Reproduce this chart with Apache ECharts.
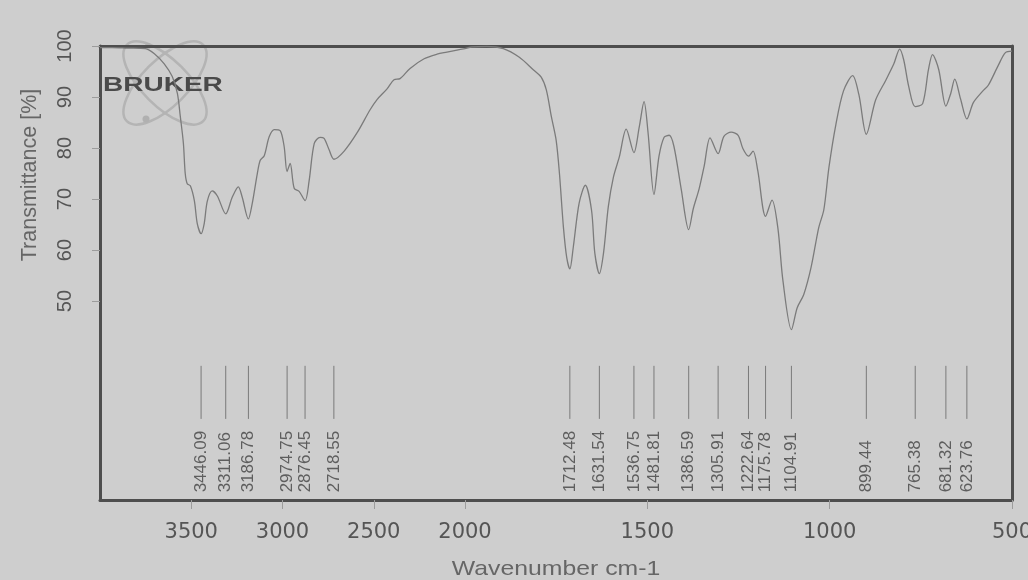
<!DOCTYPE html>
<html>
<head>
<meta charset="utf-8">
<script src="https://cdn.jsdelivr.net/npm/echarts@6.0.0/dist/echarts.min.js"></script>
<style>
html,body{margin:0;padding:0;background:#cecece;}
#chart{width:1028px;height:580px;}
</style>
</head>
<body>
<div id="chart"></div>
<script>
// ---- Data (wavenumber in cm-1, transmittance in %) ----
// High-wavenumber part (4000 -> 2000 cm-1), drawn on the compressed scale
const highWavenumbers = [4000, 3932, 3850, 3751, 3702, 3648, 3604, 3576, 3560, 3543, 3533, 3522, 3505, 3483, 3467, 3446, 3429, 3412, 3385, 3357, 3311, 3275, 3242, 3221, 3187, 3166, 3138, 3122, 3100, 3073, 3045, 3013, 2991, 2975, 2958, 2936, 2909, 2876, 2854, 2826, 2794, 2772, 2744, 2718, 2662, 2591, 2520, 2482, 2427, 2389, 2356, 2301, 2224, 2153, 2099, 2044, 2000];
const highTransmittance = [99.7, 99.7, 99.6, 99.5, 98.5, 96.5, 94.0, 90.7, 86.2, 80.9, 75.0, 73.0, 72.6, 69.7, 65.2, 63.2, 65.2, 69.6, 71.6, 70.6, 67.1, 70.4, 72.4, 70.4, 66.1, 69.1, 75.0, 77.6, 78.5, 82.2, 83.6, 83.4, 80.3, 75.4, 77.0, 72.1, 71.5, 69.7, 73.6, 80.9, 82.1, 81.9, 79.6, 77.8, 79.4, 83.0, 87.5, 89.5, 91.6, 93.4, 93.6, 95.6, 97.5, 98.4, 98.8, 99.2, 99.5];

// Low-wavenumber part (2000 -> 500 cm-1)
const lowWavenumbers = [2000, 1982, 1941, 1895, 1851, 1812, 1791, 1777, 1763, 1750, 1741, 1730, 1721, 1712.5, 1703, 1687, 1670, 1653, 1644, 1631.5, 1620, 1607, 1593, 1577, 1558, 1536.8, 1522, 1509, 1498, 1481.8, 1468, 1454, 1440, 1427, 1407, 1386.6, 1374, 1358, 1344, 1328, 1305.9, 1290, 1270, 1251, 1238, 1222.6, 1210, 1197, 1175.8, 1158, 1142, 1128, 1104.9, 1089, 1071, 1051, 1030, 1016, 1002, 983, 962, 937, 920, 899.4, 874, 846, 824, 808, 797, 783, 765.4, 745, 729, 718, 701, 681.3, 668, 657, 641, 623.8, 606, 581, 565, 537, 518, 500];
const lowTransmittance = [99.5, 99.8, 99.9, 99.5, 97.8, 95.3, 93.9, 91.4, 86.1, 81.5, 75.0, 64.4, 58.5, 56.3, 60.6, 69.2, 72.7, 67.8, 59.4, 55.4, 59.5, 68.5, 74.3, 78.2, 83.7, 79.1, 84.2, 89.1, 83.0, 70.9, 78.4, 82.1, 82.5, 80.3, 71.9, 64.0, 68.1, 72.0, 76.5, 82.0, 78.9, 82.3, 83.1, 82.5, 79.9, 78.4, 79.4, 75.5, 66.6, 69.8, 64.3, 53.9, 44.4, 48.7, 51.3, 56.6, 64.4, 67.9, 76.2, 84.6, 91.2, 94.2, 90.5, 82.7, 89.4, 93.3, 96.5, 99.4, 97.3, 92.0, 88.1, 88.7, 95.4, 98.3, 95.4, 88.2, 90.7, 93.5, 89.6, 85.7, 88.9, 91.1, 92.3, 96.3, 98.7, 99.0];

// Peak picking list
const highPeaks = [3446.09, 3311.06, 3186.78, 2974.75, 2876.45, 2718.55];
const lowPeaks = [1712.48, 1631.54, 1536.75, 1481.81, 1386.59, 1305.91, 1222.64, 1175.78, 1104.91, 899.44, 765.38, 681.32, 623.76];

// Tick labels
const xTicksHigh = [2500, 3000, 3500];
const xTicksLow = [500, 1000, 1500, 2000];
const yTicks = [50, 60, 70, 80, 90, 100];

// ---- Layout / style constants ----
const Y_MIN = 11, Y_MAX = 100;
const PEAK_LINE_TOP = 37.3, PEAK_LINE_BOTTOM = 26.9, PEAK_LABEL_BASE = 12.5;
const FRAME = '#4e4e4e';
const TEXT = '#555555';

function zip(xs, ys) { return xs.map((x, i) => [x, ys[i]]); }

function peakRenderer(list) {
  return function (params, api) {
    const w = api.value(0);
    const p1 = api.coord([w, PEAK_LINE_TOP]);
    const p2 = api.coord([w, PEAK_LINE_BOTTOM]);
    const pl = api.coord([w, PEAK_LABEL_BASE]);
    return {
      type: 'group',
      children: [
        { type: 'line', shape: { x1: p1[0], y1: p1[1], x2: p2[0], y2: p2[1] },
          style: { stroke: '#7a7a7a', lineWidth: 1 } },
        { type: 'text', x: pl[0], y: pl[1], rotation: Math.PI / 2,
          style: { text: list[params.dataIndex].toFixed(2), fill: '#5e5e5e',
                   font: '17px "Liberation Sans", Arial, sans-serif',
                   align: 'left', verticalAlign: 'middle' } }
      ]
    };
  };
}

const xLabelStyle = { color: TEXT, fontFamily: '"DejaVu Sans", sans-serif', fontSize: 21, margin: 22,
                      formatter: v => String(v) };

function bottomX(gridIndex, min, max, ticks) {
  return {
    gridIndex, type: 'value', min, max, inverse: true, position: 'bottom',
    axisLine: { show: true, onZero: false, lineStyle: { color: FRAME, width: 3 } },
    axisTick: { show: true, customValues: ticks, length: 9, lineStyle: { color: '#9c9c9c', width: 1 } },
    axisLabel: Object.assign({ show: true, customValues: ticks }, xLabelStyle),
    splitLine: { show: false }
  };
}
function topX(gridIndex, min, max) {
  return {
    gridIndex, type: 'value', min, max, inverse: true, position: 'top',
    axisLine: { show: true, onZero: false, lineStyle: { color: FRAME, width: 3 } },
    axisTick: { show: false }, axisLabel: { show: false }, splitLine: { show: false }
  };
}

const chart = echarts.init(document.getElementById('chart'), null, { renderer: 'canvas' });
chart.setOption({
  backgroundColor: '#cecece',
  animation: false,
  grid: [
    { left: 100, top: 46, width: 365, height: 454, outerBoundsMode: 'none', containLabel: false },
    { left: 465, top: 46, width: 547, height: 454, outerBoundsMode: 'none', containLabel: false }
  ],
  xAxis: [
    bottomX(0, 2000, 4000, xTicksHigh),
    bottomX(1, 500, 2000, xTicksLow),
    topX(0, 2000, 4000),
    topX(1, 500, 2000)
  ],
  yAxis: [
    {
      gridIndex: 0, type: 'value', min: Y_MIN, max: Y_MAX, position: 'left',
      axisLine: { show: true, onZero: false, lineStyle: { color: FRAME, width: 3 } },
      axisTick: { show: true, customValues: yTicks, length: 8, lineStyle: { color: '#9c9c9c', width: 1 } },
      axisLabel: { show: true, customValues: yTicks, rotate: 90, margin: 25, color: TEXT,
                   fontFamily: '"Liberation Sans", Arial, sans-serif', fontSize: 20 },
      splitLine: { show: false }
    },
    {
      gridIndex: 1, type: 'value', min: Y_MIN, max: Y_MAX, position: 'right',
      axisLine: { show: true, onZero: false, lineStyle: { color: FRAME, width: 3 } },
      axisTick: { show: false }, axisLabel: { show: false }, splitLine: { show: false }
    }
  ],
  graphic: [
    { type: 'ellipse', x: 165, y: 83, rotation: Math.PI / 4, z: 0,
      shape: { cx: 0, cy: 0, rx: 54, ry: 23 }, style: { fill: 'none', stroke: '#b4b4b4', lineWidth: 2.5 } },
    { type: 'ellipse', x: 165, y: 83, rotation: -Math.PI / 4, z: 0,
      shape: { cx: 0, cy: 0, rx: 54, ry: 23 }, style: { fill: 'none', stroke: '#b4b4b4', lineWidth: 2.5 } },
    { type: 'circle', z: 0, shape: { cx: 146, cy: 119, r: 3.5 }, style: { fill: '#b0b0b0' } },
    { type: 'circle', z: 0, shape: { cx: 148, cy: 46, r: 3 }, style: { fill: '#b0b0b0' } },
    { type: 'text', x: 103, y: 85, scaleX: 1.4, z: 1,
      style: { text: 'BRUKER', fill: '#4a4a4a', font: 'bold 20px "Liberation Sans", Arial, sans-serif',
               align: 'left', verticalAlign: 'middle' } },
    { type: 'text', x: 30, y: 175, rotation: Math.PI / 2,
      style: { text: 'Transmittance [%]', fill: '#666666', font: '21.5px "Liberation Sans", Arial, sans-serif',
               align: 'center', verticalAlign: 'middle' } },
    { type: 'text', x: 556, y: 569, scaleX: 1.18,
      style: { text: 'Wavenumber cm-1', fill: '#666666', font: '21px "Liberation Sans", Arial, sans-serif',
               align: 'center', verticalAlign: 'middle' } }
  ],
  series: [
    { type: 'line', xAxisIndex: 0, yAxisIndex: 0, data: zip(highWavenumbers, highTransmittance),
      showSymbol: false, smooth: 0.3, lineStyle: { color: '#7b7b7b', width: 1.3 }, z: 3 },
    { type: 'line', xAxisIndex: 1, yAxisIndex: 1, data: zip(lowWavenumbers, lowTransmittance),
      showSymbol: false, smooth: 0.3, lineStyle: { color: '#7b7b7b', width: 1.3 }, z: 3 },
    { type: 'custom', xAxisIndex: 0, yAxisIndex: 0, data: highPeaks.map(w => [w]),
      renderItem: peakRenderer(highPeaks), z: 3 },
    { type: 'custom', xAxisIndex: 1, yAxisIndex: 1, data: lowPeaks.map(w => [w]),
      renderItem: peakRenderer(lowPeaks), z: 3 }
  ]
});
</script>
</body>
</html>
